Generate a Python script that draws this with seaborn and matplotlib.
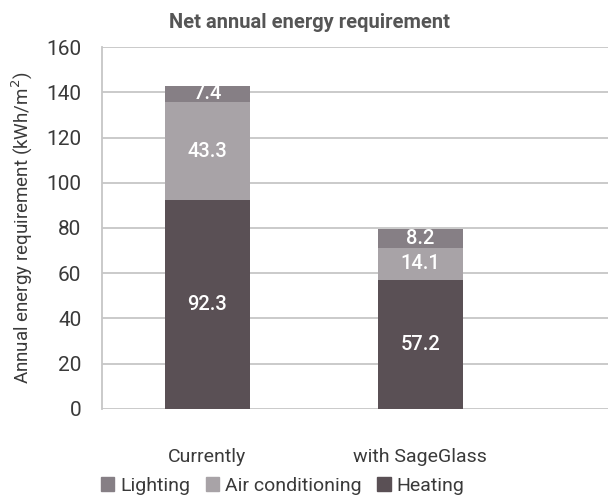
import pandas as pd
import matplotlib.pyplot as plt
import seaborn as sns
from matplotlib.patches import Patch

# Data
scenarios = ['Currently', 'with SageGlass']
heating = [92.3, 57.2]
air_conditioning = [43.3, 14.1]
lighting = [7.4, 8.2]

c_heating = '#5a5055'
c_ac = '#a8a3a7'
c_light = '#867f85'
txt = '#3a3a3a'

sns.set_style("white")
plt.rcParams['font.family'] = ['Roboto', 'DejaVu Sans']

df = pd.DataFrame({
    'scenario': scenarios,
    'heating': heating,
    'ac': air_conditioning,
    'lighting': lighting,
})
df['h_ac'] = df['heating'] + df['ac']
df['total'] = df['h_ac'] + df['lighting']

fig = plt.figure(figsize=(6.08, 5.01), dpi=100)
ax = fig.add_axes([0.168, 0.184, 0.832, 0.722])

# stacked bars drawn as overlapping cumulative totals
for col, c in [('total', c_light), ('h_ac', c_ac), ('heating', c_heating)]:
    sns.barplot(data=df, x='scenario', y=col, color=c, width=0.4,
                saturation=1, linewidth=0, ax=ax)

# value labels in the middle of each segment
for i in range(len(df)):
    segs = [(0, df['heating'][i]), (df['heating'][i], df['ac'][i]),
            (df['h_ac'][i], df['lighting'][i])]
    for bottom, val in segs:
        ax.text(i, bottom + val / 2, f'{val:.1f}', ha='center', va='center',
                color='white', fontsize=14.5, fontweight='medium')

ax.set_ylim(0, 160)
ax.set_xlim(-0.493, 1.882)
ax.set_yticks(range(0, 161, 20))
ax.yaxis.grid(True, color='#c6c6c6', linewidth=1.3)
ax.set_axisbelow(True)
for s in ['top', 'right', 'bottom']:
    ax.spines[s].set_visible(False)
ax.spines['left'].set_color('#c6c6c6')
ax.spines['left'].set_linewidth(1.3)
ax.tick_params(axis='y', length=7, color='#c6c6c6', width=1.3,
               labelsize=15, labelcolor=txt, pad=8)
ax.tick_params(axis='x', length=0, labelsize=14, labelcolor=txt, pad=28)
ax.set_xlabel('')
ax.set_ylabel('Annual energy requirement (kWh/m$^2$)', fontsize=13.5,
              color=txt, labelpad=8)
ax.set_title('Net annual energy requirement', fontsize=14.5,
             fontweight='bold', color='#555555', pad=14, x=0.41)

handles = [Patch(color=c_light, label='Lighting'),
           Patch(color=c_ac, label='Air conditioning'),
           Patch(color=c_heating, label='Heating')]
fig.legend(handles=handles, loc='lower center', ncol=3, frameon=False,
           fontsize=14, bbox_to_anchor=(0.465, -0.022), handlelength=0.7,
           handleheight=0.7, handletextpad=0.3, columnspacing=0.8,
           labelcolor=txt)

plt.savefig('out.png', dpi=100)
